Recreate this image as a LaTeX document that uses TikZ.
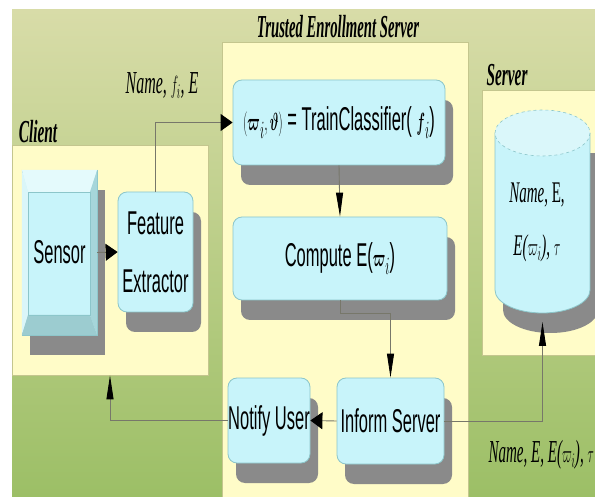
\documentclass[tikz,border=0pt]{standalone}
\usepackage{fontspec}
\usepackage{amsmath}
\usepackage{graphicx}
\usetikzlibrary{arrows.meta,shadows}
\newfontfamily\boxfont{Liberation Sans}
\newfontfamily\labfont{Liberation Serif}
\newcommand{\squeeze}[2][0.5]{\scalebox{#1}[1]{#2}}
\definecolor{bgtop}{HTML}{D8DCA8}
\definecolor{bgmid}{HTML}{C0D28A}
\definecolor{bgbot}{HTML}{9CBF66}
\definecolor{panelfill}{HTML}{FFFCC8}
\definecolor{paneledge}{HTML}{C4C68E}
\definecolor{boxfill}{HTML}{C8F4FA}
\definecolor{boxedge}{HTML}{8CC6CA}
\definecolor{bevlight}{HTML}{E4FAFC}
\definecolor{bevside}{HTML}{DAF6F9}
\definecolor{bevdark}{HTML}{A6D6DA}
\definecolor{bevlow}{HTML}{9CCCD0}
\definecolor{cyltop}{HTML}{DAF7FA}
\definecolor{shadowgray}{HTML}{8A8A8A}
\definecolor{linkgray}{HTML}{77776A}
\tikzset{
  panel/.style={draw=paneledge, fill=panelfill, line width=0.8pt, inner sep=0pt},
  paneltitle/.style={font=\labfont\bfseries\itshape\fontsize{32}{36}\selectfont, inner sep=0pt},
  shadowed/.style={drop shadow={fill=shadowgray, opacity=1, shadow xshift=8pt, shadow yshift=-20pt}},
  procbox/.style={shadowed, draw=boxedge, fill=boxfill, rounded corners=9pt, inner sep=0pt,
    line width=0.8pt, align=center, font=\boxfont\fontsize{33}{58}\selectfont},
  flowlabel/.style={font=\labfont\itshape\fontsize{32}{36}\selectfont, inner sep=0pt},
  link/.style={draw=linkgray, line width=0.9pt},
  hto/.style={link, -{Triangle[length=12pt,width=17pt,black]}},
  vto/.style={link, -{Triangle[length=24pt,width=7pt,black]}},
}

\begin{document}
\begin{tikzpicture}[x=1pt,y=-1pt]
  \useasboundingbox (0,0) rectangle (595,497);
  \shade[top color=bgtop, middle color=bgmid, bottom color=bgbot] (12,10) rectangle (595,497);

  \node[panel, minimum width=196pt, minimum height=230pt] (client) at (110,260) {};
  \node[panel, minimum width=246pt, minimum height=458pt] (tes) at (345,271) {};
  \node[panel, minimum width=118pt, minimum height=265pt] (srv) at (541,222.5) {};
  \node[paneltitle] (clientlbl) at (38,132) {\squeeze[0.48]{Client}};
  \node[paneltitle] (teslbl) at (338,27) {\squeeze[0.46]{Trusted Enrollment Server}};
  \node[paneltitle] (srvlbl) at (507,75) {\squeeze[0.48]{Server}};

  \node[shadowed, draw=boxedge, fill=boxfill, minimum width=75pt, minimum height=165pt, inner sep=0pt,
    font=\boxfont\fontsize{33}{36}\selectfont] (sensor) at (59.5,252.5) {\squeeze{Sensor}};
  \fill[bevlight] (sensor.north west) -- (sensor.north east) -- (90,192) -- (28,192) -- cycle;
  \fill[bevside] (sensor.north west) -- (28,192) -- (28,315) -- (sensor.south west) -- cycle;
  \fill[bevdark] (sensor.north east) -- (90,192) -- (90,315) -- (sensor.south east) -- cycle;
  \fill[bevlow] (sensor.south west) -- (28,315) -- (90,315) -- (sensor.south east) -- cycle;
  \draw[boxedge, line width=0.4pt] (28,192) rectangle (90,315);

  \node[procbox, minimum width=75pt, minimum height=120pt] (feat) at (155.5,252) {\squeeze{Feature}\\\squeeze{Extractor}};
  \node[procbox, minimum width=212pt, minimum height=85pt] (train) at (339,122.5)
    {\squeeze{$(\boldsymbol{\varpi}_i,\boldsymbol{\vartheta})$ = TrainClassifier( $\boldsymbol{f}_i$)}};
  \node[procbox, minimum width=214pt, minimum height=83pt] (comp) at (340,258.5)
    {\squeeze{Compute E($\boldsymbol{\varpi}_i$)}};
  \node[procbox, minimum width=82pt, minimum height=85pt] (notify) at (269,420.5) {\squeeze{Notify User}};
  \node[procbox, minimum width=107pt, minimum height=86pt] (inform) at (390.5,421) {\squeeze{Inform Server}};

  \fill[shadowgray] (503,153) rectangle (598,310);
  \fill[shadowgray] (550.5,310) ellipse[x radius=47.5, y radius=23];
  \fill[boxfill] (495,133) rectangle (590,290);
  \fill[boxfill] (542.5,290) ellipse[x radius=47.5, y radius=23];
  \draw[boxedge, line width=0.8pt] (495,133) -- (495,290) arc[start angle=180, end angle=0, x radius=47.5, y radius=23] -- (590,133);
  \draw[boxedge, dashed, line width=0.6pt, fill=cyltop] (542.5,133) ellipse[x radius=47.5, y radius=23];
  \node[flowlabel, align=center, font=\labfont\itshape\fontsize{30}{53}\selectfont] (db) at (537,222)
    {\squeeze{Name\upshape, E,}\\\squeeze{E($\varpi_i$), $\tau$}};
  \coordinate (dbin) at (542.5,322);

  \node[flowlabel] (sendlbl) at (162,86) {\squeeze{Name, $f_i$, E}};
  \node[flowlabel, anchor=east] (storelbl) at (594,455) {\squeeze[0.47]{Name, E, E($\varpi_i$), $\tau$}};

  \draw[hto] (sensor.east) -- (feat.west);
  \draw[hto] (feat.north) |- (train.west);
  \draw[vto] (train.south) -- (comp.north);
  \draw[vto] (comp.south) -- ++(0,13) -| (inform.north);
  \draw[hto] (inform.west) -- (notify.east);
  \draw[vto] (notify.west) -| (client.south);
  \draw[vto] (inform.east) -| (dbin);
\end{tikzpicture}
\end{document}
